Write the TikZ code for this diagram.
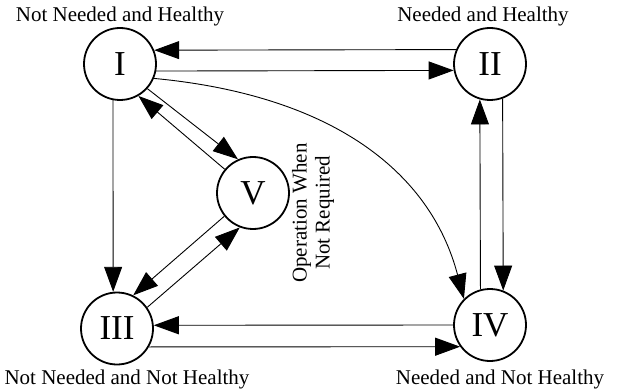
\documentclass[tikz,border=0pt]{standalone}
\usepackage{fontspec}
\setmainfont{Liberation Serif}
\usetikzlibrary{arrows.meta}

\tikzset{
	state/.style={circle,draw,line width=1.8pt,minimum size=72pt,inner sep=0pt,font=\fontsize{35}{40}\selectfont},
	tag/.style={anchor=base,font=\fontsize{21}{24}\selectfont},
	note/.style={rotate=90,align=center,inner sep=0pt,font=\fontsize{21}{23}\selectfont}
}

\begin{document}
\begin{tikzpicture}[->,>={Triangle[length=25pt,width=18pt]},line width=0.9pt,x=1pt,y=1pt]

		\useasboundingbox (0,0) rectangle (617,391);

		\node[state](s_1) at (120,327)  {I};
		\node[state](s_2) at (490,327)  {II};
		\node[state](s_3) at (117,62.5) {III};
		\node[state](s_4) at (490,66)   {IV};
		\node[state](s_5) at (253,198)  {V};

		\node[tag](t_1) at (120,369.3) {Not Needed and Healthy};
		\node[tag](t_2) at (483,369.3) {Needed and Healthy};
		\node[tag](t_3) at (127,6.7)   {Not Needed and Not Healthy};
		\node[tag](t_4) at (500,6.7)   {Needed and Not Healthy};
		\node[note](t_5) at (313,178)  {Operation When\\Not Required};

		\draw[->] (s_2.157.7) -- (s_1.22.3);
		\draw[->] (s_1.349.1) -- (s_2.190.9);
		\draw[->] (s_1.259.1) -- (s_3.96.2);
		\draw[->] (s_4.105.7) -- (s_2.254.3);
		\draw[->] (s_2.290.6) -- (s_4.69.4);
		\draw[->] (s_4.180)   -- (s_3.5.4);
		\draw[->] (s_3.330)   -- (s_4.216.6);
		\draw[->] (s_1.318.4) -- (s_5.114.6);
		\draw[->] (s_5.140)   -- (s_1.300);
		\draw[->] (s_5.219.8) -- (s_3.64);
		\draw[->] (s_3.35)    -- (s_5.249.6);
		\draw[->] (s_1.337.4) .. controls (330,296) and (430,221) .. (s_4.135);
	\end{tikzpicture}
\end{document}
